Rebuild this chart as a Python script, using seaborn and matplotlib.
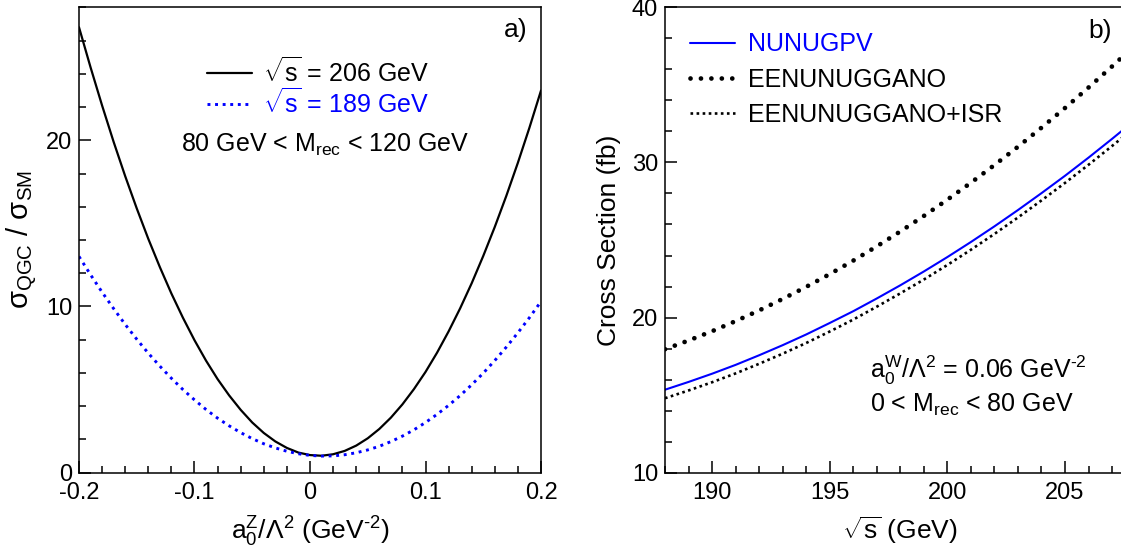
import numpy as np
import pandas as pd
import matplotlib
matplotlib.use("Agg")
import matplotlib.pyplot as plt
from matplotlib.ticker import MultipleLocator, FuncFormatter
from matplotlib.lines import Line2D
import seaborn as sns

# ---- panel a): cross-section ratio versus a0^Z / Lambda^2 ----
a0z = [-0.20, -0.19, -0.18, -0.17, -0.16, -0.15, -0.14, -0.13, -0.12, -0.11,
       -0.10, -0.09, -0.08, -0.07, -0.06, -0.05, -0.04, -0.03, -0.02, -0.01,
       0.00, 0.01, 0.02, 0.03, 0.04, 0.05, 0.06, 0.07, 0.08, 0.09,
       0.10, 0.11, 0.12, 0.13, 0.14, 0.15, 0.16, 0.17, 0.18, 0.19, 0.20]
ratio_206 = [26.80, 24.39, 22.09, 19.90, 17.84, 15.90, 14.07, 12.37, 10.78, 9.32,
             7.97, 6.74, 5.63, 4.65, 3.78, 3.02, 2.39, 1.88, 1.49, 1.21,
             1.06, 1.02, 1.11, 1.31, 1.63, 2.07, 2.63, 3.31, 4.11, 5.03,
             6.06, 7.22, 8.50, 9.89, 11.40, 13.04, 14.79, 16.66, 18.65, 20.76, 22.99]
ratio_189 = [13.01, 11.91, 10.86, 9.87, 8.92, 8.03, 7.19, 6.41, 5.68, 5.00,
             4.38, 3.80, 3.28, 2.82, 2.41, 2.05, 1.74, 1.49, 1.29, 1.14,
             1.04, 1.00, 1.01, 1.08, 1.20, 1.37, 1.59, 1.87, 2.20, 2.58,
             3.02, 3.51, 4.05, 4.64, 5.29, 5.99, 6.75, 7.56, 8.42, 9.33, 10.30]

# ---- panel b): cross section versus sqrt(s) ----
sqrt_s = list(range(188, 209))
xs_nunugpv = [15.35, 15.85, 16.38, 16.95, 17.57, 18.22, 18.91, 19.65, 20.41, 21.23,
              22.08, 22.97, 23.90, 24.87, 25.88, 26.93, 28.02, 29.14, 30.31, 31.52, 32.76]
xs_gano = [17.96, 18.52, 19.12, 19.77, 20.46, 21.20, 21.98, 22.80, 23.67, 24.59,
           25.55, 26.55, 27.60, 28.69, 29.83, 31.01, 32.24, 33.51, 34.83, 36.19, 37.59]
xs_gano_isr = [14.80, 15.30, 15.83, 16.40, 17.02, 17.67, 18.36, 19.10, 19.87, 20.70,
               21.56, 22.45, 23.39, 24.37, 25.39, 26.45, 27.55, 28.68, 29.85, 31.06, 32.30]

labels_a = [r"$\sqrt{\mathrm{s}}$ = 206 GeV", r"$\sqrt{\mathrm{s}}$ = 189 GeV"]
labels_b = ["NUNUGPV", "EENUNUGGANO", "EENUNUGGANO+ISR"]

BLUE = "#0000ff"

sns.set_style("white")
plt.rcParams["font.family"] = ["Liberation Sans", "DejaVu Sans"]
plt.rcParams["mathtext.fontset"] = "custom"
plt.rcParams["mathtext.rm"] = "Liberation Sans"
plt.rcParams["mathtext.it"] = "Liberation Sans:italic"
plt.rcParams["mathtext.bf"] = "Liberation Sans:bold"
plt.rcParams["axes.unicode_minus"] = False
plt.rcParams["text.color"] = "black"
plt.rcParams["axes.labelcolor"] = "black"
plt.rcParams["xtick.color"] = "black"
plt.rcParams["ytick.color"] = "black"

W, H = 1121, 552
fig = plt.figure(figsize=(W / 100, H / 100), dpi=100)
fig.patch.set_facecolor("white")

ybot = (H - 472.7) / H
yh = 465.4 / H
axL = fig.add_axes([79 / W, ybot, 462 / W, yh])
axR = fig.add_axes([665 / W, ybot, 470.6 / W, yh])

DOT_BLUE = (0, (1, 1.6))
DOT_BIG = (0, (0.01, 2.2))
DOT_SMALL = (0, (1, 1.3))

df_a = pd.DataFrame({"a0": a0z, "r206": ratio_206, "r189": ratio_189})
sns.lineplot(data=df_a, x="a0", y="r206", ax=axL, color="black", linewidth=1.6,
             estimator=None, sort=False)
sns.lineplot(data=df_a, x="a0", y="r189", ax=axL, color=BLUE, linewidth=2.1,
             linestyle=DOT_BLUE, estimator=None, sort=False)

df_b = pd.DataFrame({"rs": sqrt_s, "nunugpv": xs_nunugpv, "gano": xs_gano, "isr": xs_gano_isr})
sns.lineplot(data=df_b, x="rs", y="nunugpv", ax=axR, color=BLUE, linewidth=1.5,
             estimator=None, sort=False)
sns.lineplot(data=df_b, x="rs", y="gano", ax=axR, color="black", linewidth=3.4,
             linestyle=DOT_BIG, dash_capstyle="round", estimator=None, sort=False)
sns.lineplot(data=df_b, x="rs", y="isr", ax=axR, color="black", linewidth=1.9,
             linestyle=DOT_SMALL, estimator=None, sort=False)

TICK_FS = 17
LABEL_FS = 19
TEXT_FS = 18

for ax in (axL, axR):
    for s in ax.spines.values():
        s.set_linewidth(1.1)
        s.set_color("black")
    ax.tick_params(which="major", direction="in", length=8.5, width=1.1,
                   bottom=True, left=True, top=False, right=False,
                   labelsize=TICK_FS, pad=5, colors="black")
    ax.tick_params(which="minor", direction="in", length=4.8, width=1.1,
                   bottom=True, left=True, top=False, right=False)
    ax.tick_params(axis="x", which="major", pad=6.5)
    ax.grid(False)

axL.set_xlim(-0.2, 0.2)
axL.set_ylim(0, 28)
axL.xaxis.set_major_locator(MultipleLocator(0.1))
axL.xaxis.set_minor_locator(MultipleLocator(0.02))
axL.yaxis.set_major_locator(MultipleLocator(10))
axL.yaxis.set_minor_locator(MultipleLocator(2))
axL.xaxis.set_major_formatter(FuncFormatter(lambda v, p: "0" if abs(v) < 1e-9 else f"{v:.1f}"))
axL.set_xlabel(r"a$_0^{\mathrm{Z}}$/$\Lambda^2$ (GeV$^{\text{-}2}$)", fontsize=LABEL_FS, labelpad=8)
axL.set_ylabel(r"σ$_{\mathrm{QGC}}$ / σ$_{\mathrm{SM}}$", fontsize=LABEL_FS + 2, labelpad=4)

axR.set_xlim(188, 208)
axR.set_ylim(10, 40)
axR.xaxis.set_major_locator(MultipleLocator(5))
axR.xaxis.set_minor_locator(MultipleLocator(1))
axR.yaxis.set_major_locator(MultipleLocator(10))
axR.yaxis.set_minor_locator(MultipleLocator(2))
axR.set_xlabel(r"$\sqrt{\mathrm{s}}$ (GeV)", fontsize=LABEL_FS, labelpad=8)
axR.set_ylabel("Cross Section (fb)", fontsize=LABEL_FS, labelpad=8)

# legends
hA = [Line2D([], [], color="black", lw=1.6),
      Line2D([], [], color=BLUE, lw=2.1, linestyle=DOT_BLUE)]
legA = axL.legend(hA, labels_a, loc="upper left", bbox_to_anchor=((207 - 79) / 462, 1 - 50 / 465.4),
                  frameon=False, fontsize=TEXT_FS, handlelength=1.8, handletextpad=0.45,
                  labelspacing=0.05, borderpad=0, borderaxespad=0)
legA.get_texts()[1].set_color(BLUE)

hB = [Line2D([], [], color=BLUE, lw=1.5),
      Line2D([], [], color="black", lw=3.4, linestyle=DOT_BIG, dash_capstyle="round"),
      Line2D([], [], color="black", lw=1.9, linestyle=DOT_SMALL)]
legB = axR.legend(hB, labels_b, loc="upper left", bbox_to_anchor=(25 / 470.6, 1 - 25 / 465.4),
                  frameon=False, fontsize=TEXT_FS, handlelength=1.8, handletextpad=0.5,
                  labelspacing=0.45, borderpad=0, borderaxespad=0)
legB.get_texts()[0].set_color(BLUE)

# annotations
axL.text(0.188, 26.65, "a)", fontsize=TEXT_FS + 1, ha="right", va="center")
axL.text(0.013, 19.7, r"80 GeV < M$_{\mathrm{rec}}$ < 120 GeV", fontsize=TEXT_FS,
         ha="center", va="center")

axR.text(0.95, 0.949, "b)", transform=axR.transAxes,
         fontsize=TEXT_FS + 1, ha="right", va="center")
axR.text(196.7, 16.6, r"a$_0^{\mathrm{W}}$/$\Lambda^2$ = 0.06 GeV$^{\text{-}2}$",
         fontsize=TEXT_FS, ha="left", va="center")
axR.text(196.7, 14.4, r"0 < M$_{\mathrm{rec}}$ < 80 GeV",
         fontsize=TEXT_FS, ha="left", va="center")

fig.savefig("out.png", dpi=100, facecolor="white")
